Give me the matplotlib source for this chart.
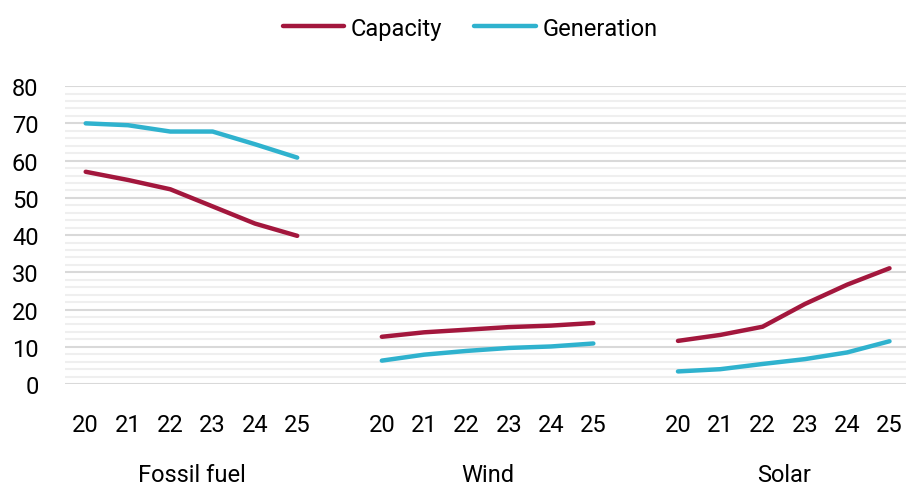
import numpy as np
import matplotlib
matplotlib.use("Agg")
import matplotlib.pyplot as plt
from matplotlib.ticker import MultipleLocator

plt.rcParams['font.family'] = ['Roboto', 'DejaVu Sans']

years = ["20", "21", "22", "23", "24", "25"]
groups = ["Fossil fuel", "Wind", "Solar"]

# capacity and generation per group, one value per year
capacity = {
    "Fossil fuel": [57.0, 54.8, 52.3, 47.7, 43.1, 39.8],
    "Wind": [12.7, 13.9, 14.6, 15.3, 15.7, 16.4],
    "Solar": [11.6, 13.2, 15.4, 21.5, 26.7, 31.1],
}
generation = {
    "Fossil fuel": [70.0, 69.5, 67.8, 67.8, 64.4, 60.8],
    "Wind": [6.3, 7.9, 8.9, 9.7, 10.1, 10.9],
    "Solar": [3.4, 4.0, 5.4, 6.7, 8.5, 11.5],
}

cap_color = "#A3173D"
gen_color = "#2FB2CE"

fig = plt.figure(figsize=(9.06, 4.85), dpi=100)
ax = fig.add_axes([0.0717, 0.206, 0.9283, 0.6144])

step = len(years) + 1  # one empty slot between groups
ticks, labels = [], []
for g, name in enumerate(groups):
    x = np.arange(len(years)) + g * step
    ax.plot(x, capacity[name], color=cap_color, lw=3.2, solid_capstyle="round",
            label="Capacity" if g == 0 else None, zorder=3)
    ax.plot(x, generation[name], color=gen_color, lw=3.2, solid_capstyle="round",
            label="Generation" if g == 0 else None, zorder=3)
    ticks.extend(x)
    labels.extend(years)
    ax.text(x.mean(), -0.302, name, transform=ax.get_xaxis_transform(),
            ha="center", va="center", fontsize=17)

ax.set_xlim(-0.49, 19.39)
ax.set_ylim(0, 80)
ax.set_xticks(ticks)
ax.set_xticklabels(labels)
ax.yaxis.set_major_locator(MultipleLocator(10))
ax.yaxis.set_minor_locator(MultipleLocator(2))
ax.grid(axis="y", which="major", color="#D9D9D9", lw=1.5, zorder=1)
ax.grid(axis="y", which="minor", color="#EFEFEF", lw=1.5, zorder=0)
ax.tick_params(axis="both", which="both", length=0, labelsize=17)
ax.tick_params(axis="x", pad=21)
ax.tick_params(axis="y", pad=19)
for s in ax.spines.values():
    s.set_visible(False)

fig.legend(loc="center", bbox_to_anchor=(0.519, 0.94), ncol=2, frameon=False,
           fontsize=17, handlelength=2.6, handletextpad=0.3, columnspacing=1.35)

fig.savefig("out.png", dpi=100)
